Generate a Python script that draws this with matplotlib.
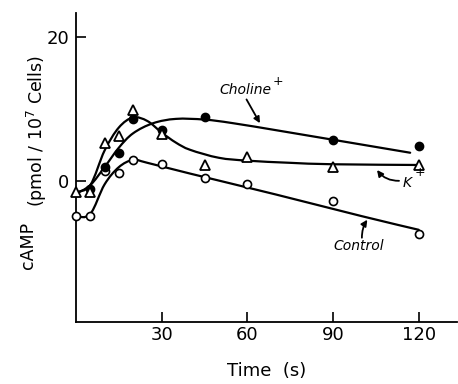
import matplotlib
matplotlib.use("Agg")
import matplotlib.pyplot as plt
from matplotlib.path import Path
from matplotlib.patches import PathPatch

# Measured cAMP (pmol / 10^7 cells) vs time (s)
control_t = [0, 5, 10, 15, 20, 30, 45, 60, 90, 120]
control = [-4.9, -4.9, 1.4, 1.1, 2.9, 2.4, 0.4, -0.5, -2.8, -7.4]

choline_t = [5, 10, 15, 20, 30, 45, 90, 120]
choline = [-1.2, 1.9, 3.8, 8.6, 7.0, 8.8, 5.6, 4.9]

k_t = [0, 5, 10, 15, 20, 30, 45, 60, 90, 120]
k_plus = [-1.6, -1.5, 5.2, 6.2, 9.9, 6.5, 2.2, 3.3, 1.9, 2.2]

# Hand-fitted trend curves (knots along each drawn curve)
control_fit_t = [0, 5, 10, 15, 20, 25, 40, 70, 100, 120]
control_fit = [-5.0, -4.6, -0.5, 1.9, 2.9, 2.5, 1.0, -1.9, -4.9, -6.8]

choline_fit_t = [0, 5, 10, 15, 20, 27, 35, 45, 55, 75, 117]
choline_fit = [-1.8, -0.6, 1.9, 4.6, 6.6, 8.0, 8.6, 8.5, 8.0, 6.7, 3.9]

k_fit_t = [0, 5, 10, 15, 20, 25, 30, 35, 40, 50, 60, 75, 90, 120]
k_fit = [-1.6, -0.6, 4.2, 7.4, 8.8, 8.3, 6.7, 5.3, 4.3, 3.2, 2.8, 2.5, 2.3, 2.2]

x_ticks = [30, 60, 90, 120]
y_ticks = [0, 20]


def smooth_path(xs, ys):
    """Catmull-Rom spline through the knots, as cubic Bezier segments."""
    pts = list(zip(xs, ys))
    pts = [pts[0]] + pts + [pts[-1]]
    verts = [pts[1]]
    codes = [Path.MOVETO]
    for i in range(1, len(pts) - 2):
        p0, p1, p2, p3 = pts[i - 1], pts[i], pts[i + 1], pts[i + 2]
        c1 = (p1[0] + (p2[0] - p0[0]) / 6, p1[1] + (p2[1] - p0[1]) / 6)
        c2 = (p2[0] - (p3[0] - p1[0]) / 6, p2[1] - (p3[1] - p1[1]) / 6)
        verts += [c1, c2, p2]
        codes += [Path.CURVE4] * 3
    return Path(verts, codes)


fig = plt.figure(figsize=(4.58, 3.84), dpi=100)
ax = fig.add_axes([76 / 458, 62 / 384, 381 / 458, 309 / 384])

for xs, ys in [(control_fit_t, control_fit), (choline_fit_t, choline_fit),
               (k_fit_t, k_fit)]:
    ax.add_patch(PathPatch(smooth_path(xs, ys), fill=False, lw=1.6,
                           ec="black", capstyle="round", clip_on=False))

ax.plot(control_t, control, "o", ms=5.8, mfc="white", mec="black", mew=1.2,
        ls="none", clip_on=False, zorder=3)
ax.plot(choline_t, choline, "o", ms=5.8, mfc="black", mec="black", mew=1.2,
        ls="none", clip_on=False, zorder=3)
ax.plot(k_t, k_plus, "^", ms=7, mfc="white", mec="black", mew=1.3,
        ls="none", clip_on=False, zorder=3)

ax.set_xlim(0, 133.4)
ax.set_ylim(-19.6, 23.3)
ax.set_xticks(x_ticks)
ax.set_yticks(y_ticks)
ax.set_xticklabels([str(v) for v in x_ticks])
ax.set_yticklabels([str(v) for v in y_ticks])
ax.tick_params(direction="in", length=7, width=1.2, labelsize=13)
ax.tick_params(axis="x", pad=3)
ax.tick_params(axis="y", pad=5)
for side in ("top", "right"):
    ax.spines[side].set_visible(False)
for side in ("left", "bottom"):
    ax.spines[side].set_linewidth(1.3)

ax.set_xlabel("Time  (s)", fontsize=13, labelpad=13)

fig.text(28.5 / 458, 1 - 245 / 384, "cAMP", rotation=90, fontsize=12.5,
         ha="center", va="center")
fig.text(36.5 / 458, 1 - 131 / 384, r"(pmol / 10$^7$ Cells)", rotation=90,
         fontsize=12.5, ha="center", va="center")

arrow = dict(arrowstyle="-|>", lw=1.3, color="black", mutation_scale=9,
             shrinkA=0, shrinkB=0)
label_font = dict(fontsize=10, style="italic", ha="center", va="center")

ax.text(59.2, 12.6, "Choline", **label_font)
ax.text(70.6, 13.8, "+", fontsize=9, ha="center", va="center")
ax.annotate("", xy=(64.4, 8.0), xytext=(59.7, 11.3), arrowprops=arrow)

ax.text(115.9, -0.3, "K", **label_font)
ax.text(120.4, 1.2, "+", fontsize=9, ha="center", va="center")
ax.annotate("", xy=(105.4, 1.5), xytext=(113.1, 0.0),
            arrowprops=dict(arrow, connectionstyle="arc3,rad=-0.25"))

ax.text(99.1, -9.0, "Control", **label_font)
ax.annotate("", xy=(102.0, -5.4), xytext=(100.1, -7.9),
            arrowprops=dict(arrow, connectionstyle="arc3,rad=-0.15"))

fig.savefig("out.png", dpi=100)
